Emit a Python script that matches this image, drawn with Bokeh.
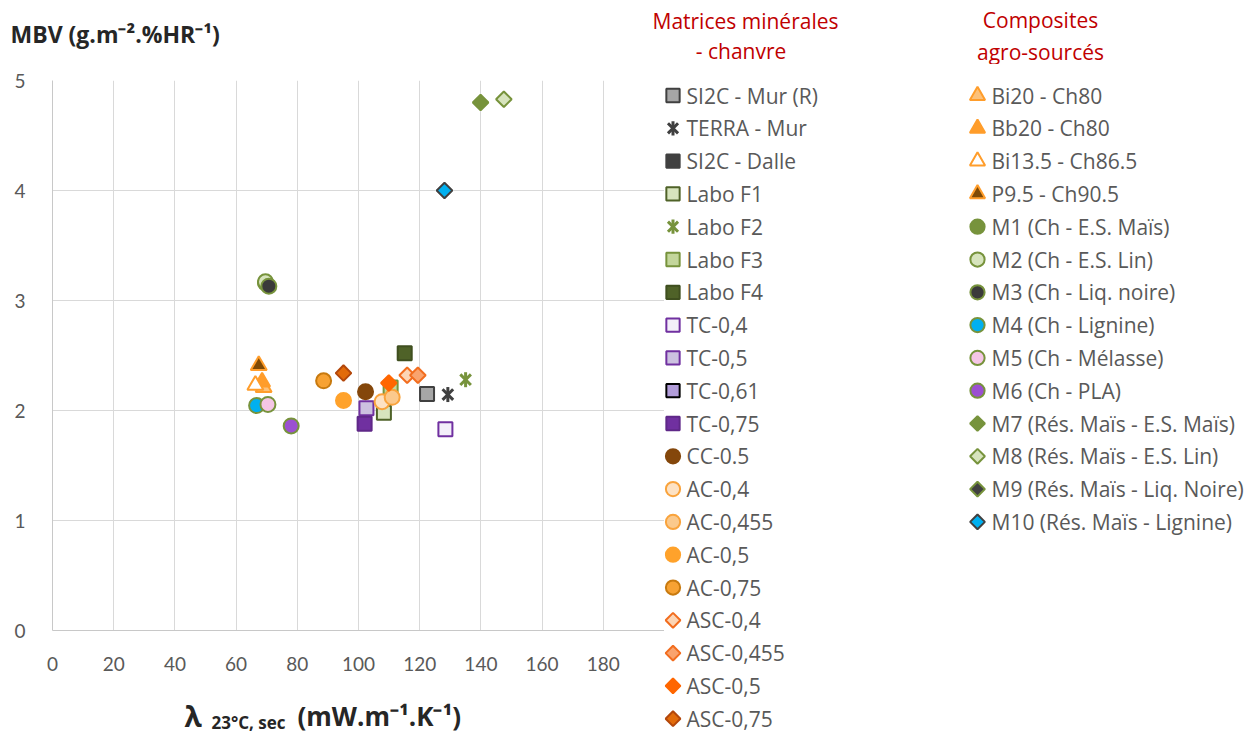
import math
from bokeh.plotting import figure
from bokeh.layouts import row, column
from bokeh.models import Range1d, FixedTicker, ColumnDataSource, Label
from bokeh.core.properties import value
from bokeh.embed import file_html
from bokeh.resources import INLINE

NaN = float("nan")

# ---------------- data ----------------
x_ticks = [0, 20, 40, 60, 80, 100, 120, 140, 160, 180]
y_ticks = [0, 1, 2, 3, 4, 5]

group1_title = ["Matrices minérales", " -  chanvre"]
names_min = ["SI2C - Mur (R)", "TERRA - Mur", "SI2C - Dalle", "Labo F1", "Labo F2", "Labo F3",
             "Labo F4", "TC-0,4", "TC-0,5", "TC-0,61", "TC-0,75", "CC-0.5", "AC-0,4",
             "AC-0,455", "AC-0,5", "AC-0,75", "ASC-0,4", "ASC-0,455", "ASC-0,5", "ASC-0,75"]
lambda_min = [122.4, 129.2, NaN, 108.3, 135.0, 110.5, 115.1, 128.4, 102.6, NaN, 102.0,
              102.3, 107.7, 111.0, 95.1, 88.6, 115.9, 119.4, 109.9, 95.1]
mbv_min = [2.15, 2.145, NaN, 1.98, 2.28, 2.21, 2.52, 1.83, 2.02, NaN, 1.88,
           2.17, 2.08, 2.12, 2.09, 2.27, 2.32, 2.32, 2.25, 2.34]

group2_title = ["Composites", "agro-sourcés"]
names_agro = ["Bi20 - Ch80", "Bb20 - Ch80", "Bi13.5 - Ch86.5", "P9.5 - Ch90.5",
              "M1 (Ch - E.S. Maïs)", "M2 (Ch - E.S. Lin)", "M3 (Ch - Liq. noire)",
              "M4 (Ch - Lignine)", "M5 (Ch - Mélasse)", "M6 (Ch - PLA)",
              "M7 (Rés. Maïs - E.S. Maïs)", "M8 (Rés. Maïs - E.S. Lin)",
              "M9 (Rés. Maïs - Liq. Noire)", "M10 (Rés. Maïs - Lignine)"]
lambda_agro = [69.0, 68.5, 66.3, 67.4, 69.6, 69.6, 70.7, 66.7, 70.4, 78.0,
               139.9, 147.5, NaN, 128.1]
mbv_agro = [2.21, 2.26, 2.23, 2.41, 3.16, 3.17, 3.13, 2.045, 2.055, 1.86,
            4.80, 4.83, NaN, 4.00]

# ---------------- styles ----------------
marker_min = ["square", "star", "square", "square", "star", "square", "square",
              "square", "square", "square", "square", "circle", "circle", "circle",
              "circle", "circle", "diamond", "diamond", "diamond", "diamond"]
fill_min = ["#a6a6a6", "#404040", "#404040", "#d7e4bd", "#77933c", "#c3d69b", "#4f6228",
            "#f3eff9", "#ccc1e0", "#b19cd9", "#7030a0", "#84470b", "#fde2c4", "#fbc98c",
            "#ffa22b", "#f7a233", "#fcd5b5", "#f9a36e", "#ff6600", "#e26b0a"]
line_min = ["#404040", "#404040", "#404040", "#4f6228", "#77933c", "#77933c", "#3f4f1f",
            "#7030a0", "#7030a0", "#000000", "#5f2888", "#84470b", "#f9a33c", "#f9a33c",
            "#ffa22b", "#c87a0f", "#f26d1f", "#f26d1f", "#ff6600", "#b3470b"]
marker_agro = ["triangle", "triangle", "triangle", "triangle", "circle", "circle", "circle",
               "circle", "circle", "circle", "diamond", "diamond", "diamond", "diamond"]
fill_agro = ["#fcc17a", "#ff9d2b", "#ffffff", "#7f4a06", "#77933c", "#d7e4bd", "#3a3a3a",
             "#00b0f0", "#f5c6e6", "#9b4fd1", "#77933c", "#d7e4bd", "#404040", "#00b0f0"]
line_agro = ["#ff9d2b", "#ff9d2b", "#ff9d2b", "#ff9d2b", "#77933c", "#77933c", "#77933c",
             "#77933c", "#77933c", "#77933c", "#77933c", "#77933c", "#77933c", "#404040"]

FONT = "Open Sans"
TICK_FONT = "Lato"
TXT = "#595959"
DARK = "#262626"
RED = "#c00000"
W, H = 1257, 737
LEFT_W = 664
TOP_H = 64


def draw_marker(f, src, m, fill, line, scale=1.0):
    if m == "square":
        f.scatter("x", "y", source=src, marker="square", size=14 * scale,
                  fill_color=fill, line_color=line, line_width=2)
    elif m == "circle":
        f.scatter("x", "y", source=src, marker="circle", size=15 * scale,
                  fill_color=fill, line_color=line, line_width=2)
    elif m == "triangle":
        f.scatter("x", "y", source=src, marker="triangle", size=16 * scale,
                  fill_color=fill, line_color=line, line_width=2)
    elif m == "diamond":
        f.scatter("x", "y", source=src, marker="square", angle=math.pi / 4, size=11 * scale,
                  fill_color=fill, line_color=line, line_width=2)
    elif m == "star":
        f.scatter("x", "y", source=src, marker="x", size=15 * scale,
                  line_color=line, line_width=3)
        f.scatter("x", "y", source=src, marker="dash", angle=math.pi / 2, size=15 * scale,
                  line_color=line, line_width=3)


def blank(w, h, xr=None):
    f = figure(width=w, height=h, x_range=xr or Range1d(0, w), y_range=Range1d(0, h),
               output_backend="svg", toolbar_location=None, min_border=0,
               x_axis_type=None, y_axis_type=None)
    f.outline_line_color = None
    f.background_fill_color = "white"
    f.border_fill_color = "white"
    return f


def text_label(f, x, y, text, size, color, bold=False, align="left"):
    f.add_layout(Label(x=x, y=y, text=text, text_font=FONT, text_font_size=size,
                       text_font_style="bold" if bold else "normal", text_color=color,
                       text_align=align, text_baseline="middle"))


# ---------------- top strip: y-axis title and legend headers ----------------
top = blank(W, TOP_H)
text_label(top, 10, TOP_H - 33, "MBV (g.m⁻².%HR⁻¹)", "23px", DARK, bold=True)
text_label(top, 745, TOP_H - 20, group1_title[0], "21px", RED, align="center")
text_label(top, 746, TOP_H - 50, group1_title[1], "21px", RED, align="center")
text_label(top, 1040, TOP_H - 19, group2_title[0], "21px", RED, align="center")
text_label(top, 1040, TOP_H - 51, group2_title[1], "21px", RED, align="center")

# ---------------- main plot ----------------
MAIN_H = (80 - TOP_H) + 550 + 50
BOT_H = H - TOP_H - MAIN_H

p = figure(width=LEFT_W, height=MAIN_H, x_range=Range1d(0, 200), y_range=Range1d(0, 5),
           output_backend="svg", toolbar_location=None,
           min_border_left=52, min_border_right=0, min_border_top=80 - TOP_H,
           min_border_bottom=50)
p.outline_line_color = None
p.background_fill_color = "white"
p.border_fill_color = "white"
for ax in (p.xaxis[0], p.yaxis[0]):
    ax.axis_line_color = "#c8c8c8"
    ax.axis_line_width = 1
    ax.major_tick_line_color = None
    ax.major_tick_out = 0
    ax.major_tick_in = 0
    ax.minor_tick_line_color = None
    ax.major_label_text_font = TICK_FONT
    ax.major_label_text_font_size = "19px"
    ax.major_label_text_color = TXT
p.xaxis.ticker = FixedTicker(ticks=x_ticks)
p.yaxis.ticker = FixedTicker(ticks=y_ticks)
p.xaxis.major_label_standoff = 26
p.yaxis.major_label_standoff = 27
p.grid.grid_line_color = "#d9d9d9"
p.grid.grid_line_width = 1

for names, xs, ys, mk, fl, ln in ((names_min, lambda_min, mbv_min, marker_min, fill_min, line_min),
                                  (names_agro, lambda_agro, mbv_agro, marker_agro, fill_agro, line_agro)):
    for i in range(len(names)):
        src = ColumnDataSource(dict(x=[xs[i]], y=[ys[i]]))
        draw_marker(p, src, mk[i], fl[i], ln[i])

# ---------------- bottom strip (x-axis title); its frame is aligned with the plot frame ----------
bot = blank(LEFT_W, BOT_H, xr=Range1d(52, LEFT_W))
by = H - 715
text_label(bot, 184, by, "λ", "28px", DARK, bold=True)
text_label(bot, 211, by - 7, "23°C, sec", "17px", DARK, bold=True)
text_label(bot, 297, by, "(mW.m⁻¹.K⁻¹)", "26px", DARK, bold=True)

# ---------------- legend panel ----------------
RW = W - LEFT_W
LH = H - TOP_H
leg = blank(RW, LH)

ROW0, ROWH = 95, 32.8
for names, mk, fl, ln, mx, tx in ((names_min, marker_min, fill_min, line_min, 672.5, 686),
                                  (names_agro, marker_agro, fill_agro, line_agro, 977, 991)):
    ys = [H - (ROW0 + ROWH * i) for i in range(len(names))]
    for i in range(len(names)):
        src = ColumnDataSource(dict(x=[mx - LEFT_W], y=[ys[i]]))
        draw_marker(leg, src, mk[i], fl[i], ln[i], scale=0.95)
    leg.text(x=[tx - LEFT_W] * len(names), y=ys, text=names, text_font=value(FONT),
             text_font_size=value("21px"), text_color=TXT, text_baseline="middle",
             text_align="left")

layout = column(top, row(column(p, bot), leg))
open("out.html", "w").write(file_html(layout, INLINE))
